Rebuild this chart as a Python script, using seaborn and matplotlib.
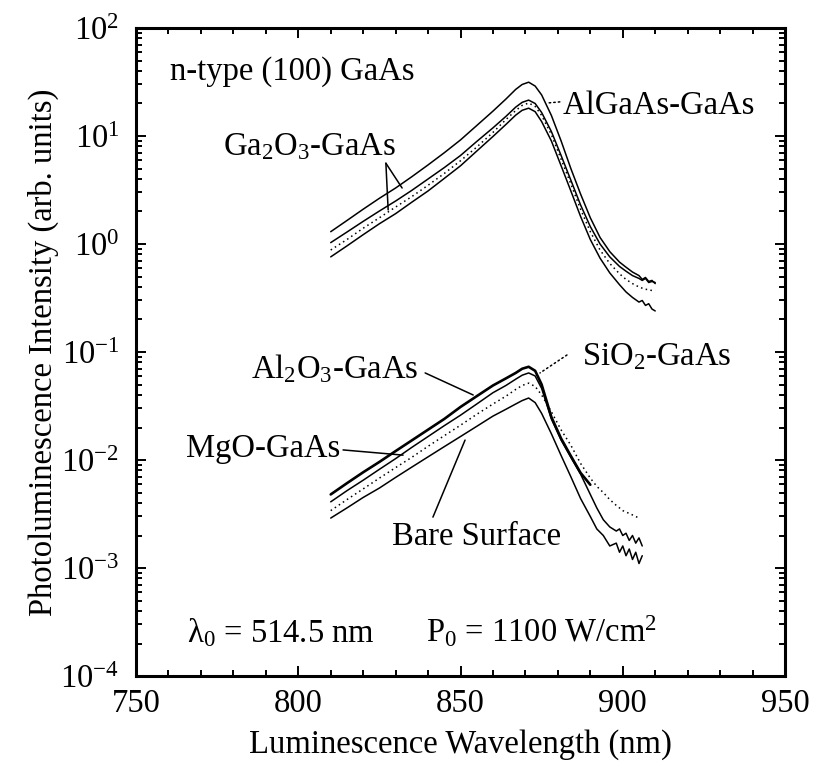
import numpy as np
import pandas as pd
import matplotlib
matplotlib.use("Agg")
import matplotlib.pyplot as plt
import seaborn as sns
from matplotlib.ticker import FixedLocator, NullFormatter, MultipleLocator, LogFormatterSciNotation

# ---- photoluminescence spectra, n-type (100) GaAs with different surface layers ----
# upper family (nm)
wavelength_top = [810, 815, 820, 825, 830, 835, 840, 845, 850, 855, 860, 864, 867, 869, 871,
                  873, 875, 878, 881, 884, 887, 890, 893, 896, 899, 901, 903, 905, 906, 907,
                  908, 909, 910]
pl_ga2o3_a = [1.3, 1.65, 2.1, 2.65, 3.3, 4.2, 5.4, 7.0, 9.2, 12.5, 17, 22, 27, 30, 31.5,
              29, 24, 15.5, 9.0, 5.0, 2.9, 1.75, 1.15, 0.85, 0.68, 0.61, 0.55, 0.51, 0.47, 0.49,
              0.45, 0.46, 0.43]
pl_top_b = [1.03, 1.29, 1.62, 2.02, 2.5, 3.14, 4.0, 5.1, 6.6, 8.9, 11.9, 15.2, 18.5, 20.5, 21.5,
            20.0, 16.5, 11.0, 6.6, 3.9, 2.3, 1.45, 1.0, 0.76, 0.62, 0.56, 0.51, 0.48, 0.46, 0.48,
            0.44, 0.45, 0.44]
pl_algaas = [0.88, 1.1, 1.4, 1.75, 2.2, 2.75, 3.5, 4.5, 5.9, 7.9, 10.8, 14.2, 17.2, 19.2, 20.2,
             18.8, 15.5, 10.3, 6.1, 3.6, 2.1, 1.3, 0.88, 0.66, 0.53, 0.47, 0.43, 0.40, 0.39, 0.38,
             0.38, 0.37, 0.37]
pl_ga2o3_b = [0.76, 0.96, 1.22, 1.54, 1.91, 2.44, 3.1, 4.05, 5.3, 7.25, 9.9, 12.8, 15.6, 17.3, 18.1,
              16.8, 13.6, 9.0, 5.3, 3.1, 1.8, 1.1, 0.74, 0.54, 0.42, 0.36, 0.32, 0.29, 0.30, 0.27,
              0.28, 0.25, 0.24]

# lower family (nm)
wavelength_bottom = [810, 815, 820, 825, 830, 835, 840, 845, 850, 855, 860, 864, 867, 869, 871,
                     873, 875, 878, 881, 884, 887, 890, 892, 894, 896, 898, 899, 900, 901, 902,
                     903, 904, 905, 906]
nan = np.nan
pl_al2o3 = [0.0048, 0.0061, 0.0077, 0.0096, 0.0121, 0.0152, 0.0191, 0.024, 0.031, 0.039,
            0.049, 0.057, 0.064, 0.070, 0.073, 0.067, 0.050, 0.025, 0.0158, 0.0109,
            0.0076, 0.0059, nan, nan, nan, nan, nan, nan, nan, nan, nan, nan, nan, nan]
pl_mgo = [0.0041, 0.0052, 0.0065, 0.0082, 0.0103, 0.0131, 0.0165, 0.0208, 0.026, 0.033,
          0.042, 0.049, 0.056, 0.061, 0.064, 0.060, 0.046, 0.024, 0.0153, 0.0106,
          0.0074, 0.0048, 0.0036, 0.0028, 0.0024, 0.0022, 0.0023, 0.0020, 0.0021, 0.0018,
          0.0020, 0.0017, 0.0019, 0.0016]
pl_sio2 = [0.0034, 0.0043, 0.0054, 0.0068, 0.0085, 0.0106, 0.0134, 0.0168, 0.021, 0.0265,
           0.033, 0.039, 0.045, 0.049, 0.0515, 0.048, 0.040, 0.028, 0.019, 0.0137,
           0.0093, 0.0068, 0.0057, 0.0050, 0.0043, 0.0038, 0.0036, 0.0034, 0.0033, 0.0032,
           0.0031, 0.0030, 0.0029, nan]
pl_bare = [0.0029, 0.0036, 0.0045, 0.0055, 0.0069, 0.0086, 0.0107, 0.0133, 0.0165, 0.0205,
           0.0255, 0.0295, 0.033, 0.0355, 0.0375, 0.034, 0.027, 0.0175, 0.0110, 0.0070,
           0.0044, 0.0030, 0.0023, 0.0020, 0.0016, 0.0017, 0.0014, 0.0016, 0.0013, 0.0015,
           0.0012, 0.0014, 0.0011, 0.0013]

x_ticks = [750, 800, 850, 900, 950]
y_ticks = [1e-4, 1e-3, 1e-2, 1e-1, 1e0, 1e1, 1e2]

# ---- style ----
FS = 23.5
sns.set_theme(style="ticks")
plt.rcParams.update({
    "font.family": ["Liberation Serif", "DejaVu Serif"],
    "mathtext.fontset": "custom",
    "mathtext.rm": "Liberation Serif",
    "mathtext.it": "Liberation Serif:italic",
    "mathtext.bf": "Liberation Serif:bold",
    "axes.unicode_minus": False,
    "font.size": FS,
    "axes.labelsize": FS,
    "xtick.labelsize": FS,
    "ytick.labelsize": FS,
    "text.color": "black",
    "axes.labelcolor": "black",
    "xtick.color": "black",
    "ytick.color": "black",
    "axes.edgecolor": "black",
})

fig = plt.figure(figsize=(8.15, 7.63), dpi=100)
ax = fig.add_axes([0.1669, 0.1140, 0.7963, 0.8493])
ax.set_yscale("log")

dotted = (0, (1.0, 2.2))
curves = [
    (wavelength_top, pl_ga2o3_a, "-", 1.1),
    (wavelength_top, pl_top_b, "-", 1.1),
    (wavelength_top, pl_algaas, dotted, 1.1),
    (wavelength_top, pl_ga2o3_b, "-", 1.1),
    (wavelength_bottom, pl_al2o3, "-", 1.9),
    (wavelength_bottom, pl_mgo, "-", 1.1),
    (wavelength_bottom, pl_sio2, dotted, 1.1),
    (wavelength_bottom, pl_bare, "-", 1.1),
]
for wl, vals, ls, lw in curves:
    df = pd.DataFrame({"wavelength": wl, "intensity": vals}).dropna()
    sns.lineplot(data=df, x="wavelength", y="intensity", ax=ax, color="black",
                 linestyle=ls, linewidth=lw, estimator=None)

# ---- axes ----
ax.set_xlim(750, 950)
ax.set_ylim(y_ticks[0], y_ticks[-1])
ax.set_xticks(x_ticks)
ax.xaxis.set_minor_locator(MultipleLocator(10))
ax.yaxis.set_major_locator(FixedLocator(y_ticks))
ax.yaxis.set_major_formatter(LogFormatterSciNotation())
minor_y = [m * d for d in y_ticks[:-1] for m in range(2, 10)]
ax.yaxis.set_minor_locator(FixedLocator(minor_y))
ax.yaxis.set_minor_formatter(NullFormatter())
ax.tick_params(which="both", direction="in", top=True, right=True, width=1.4)
ax.tick_params(which="major", length=7.5)
ax.tick_params(which="minor", length=4)
ax.tick_params(axis="x", which="major", pad=9)
ax.tick_params(axis="y", which="major", pad=12)
for sp in ax.spines.values():
    sp.set_linewidth(2.2)

ax.set_xlabel("Luminescence Wavelength (nm)", labelpad=7)
ax.set_ylabel("Photoluminescence Intensity (arb. units)", labelpad=1)

# ---- annotations ----
ax.text(760.5, 33, "n-type (100) GaAs", va="baseline", ha="left")
ax.text(776.8, 6.7, "Ga$_2$O$_3$-GaAs", va="baseline", ha="left")
line_kw = dict(arrowstyle="-", color="black", lw=1.1, shrinkA=0, shrinkB=0)
ax.annotate("", xy=(832.0, 3.3), xytext=(827.0, 5.6), arrowprops=line_kw)
ax.annotate("", xy=(827.7, 2.07), xytext=(827.0, 5.6), arrowprops=line_kw)

ax.text(881.6, 16.0, "AlGaAs-GaAs", va="baseline", ha="left")
ax.annotate("", xy=(876.7, 20.2), xytext=(880.6, 20.7),
            arrowprops=dict(line_kw, linestyle=(0, (1, 2))))

ax.text(837.0, 0.0574, "Al$_2$O$_3$-GaAs", va="baseline", ha="right")
ax.annotate("", xy=(853.9, 0.040), xytext=(839.1, 0.064), arrowprops=line_kw)

ax.text(887.4, 0.0759, "SiO$_2$-GaAs", va="baseline", ha="left")
ax.annotate("", xy=(874.5, 0.064), xytext=(882.8, 0.0938),
            arrowprops=dict(line_kw, linestyle=(0, (1, 2))))

ax.text(812.9, 0.01066, "MgO-GaAs", va="baseline", ha="right")
ax.annotate("", xy=(832.3, 0.0111), xytext=(813.8, 0.0124), arrowprops=line_kw)

ax.text(828.9, 0.00163, "Bare Surface", va="baseline", ha="left")
ax.annotate("", xy=(851.4, 0.0153), xytext=(841.5, 0.00296), arrowprops=line_kw)

ax.text(765.7, 2.07e-4, "λ$_0$ = 514.5 nm", va="baseline", ha="left")
ax.text(839.4, 2.07e-4, "P$_0$ = 1100 W/cm$^2$", va="baseline", ha="left")

fig.savefig("out.png", dpi=100)
